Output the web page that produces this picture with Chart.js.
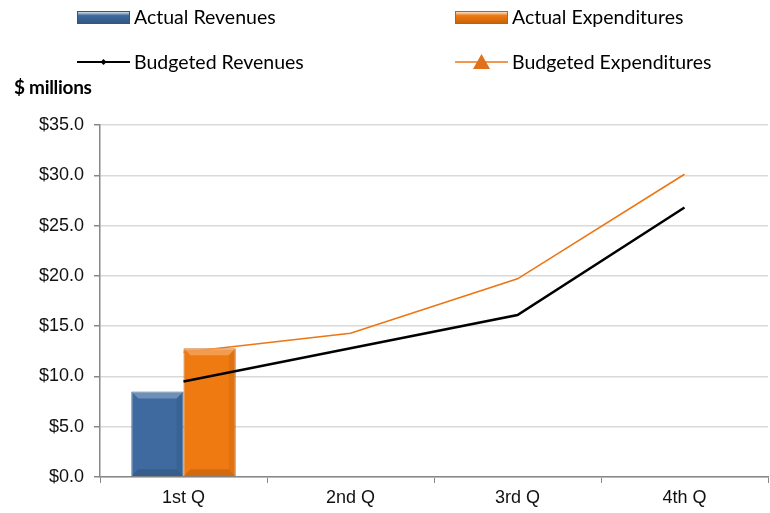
<!DOCTYPE html>
<html>
<head>
<meta charset="utf-8">
<script src="https://cdn.jsdelivr.net/npm/chart.js@4"></script>
<style>
    body { margin: 0; background: #fff; }
    #wrap { position: relative; width: 770px; height: 513px; }
    .leg { position: absolute; font-family: Lato, 'Open Sans', sans-serif; font-size: 19.5px; color: #000; white-space: nowrap; line-height: 22px; }
    .ico { position: absolute; width: 53px; }
    .unit { position: absolute; left: 14px; top: 75px; font-family: Lato, sans-serif; font-weight: bold; font-size: 19px; letter-spacing: -0.3px; }
</style>
</head>
<body>
<div id="wrap">
    <canvas id="revChart" width="770" height="513"></canvas>
    <div id="legend"></div>
    <div class="unit">$ millions</div>
</div>
<script>
const categories = ['1st Q', '2nd Q', '3rd Q', '4th Q'];
const actualRevenues = [8.5, null, null, null];
const actualExpenditures = [12.8, null, null, null];
const budgetedRevenues = [9.5, 12.8, 16.1, 26.8];
const budgetedExpenditures = [12.4, 14.3, 19.7, 30.1];
const yTicks = [0, 5, 10, 15, 20, 25, 30, 35];

const blue = '#3e6a9f';
const orange = '#f07a12';
const axisFont = { family: "'Liberation Sans', Arial, sans-serif", size: 18 };

// soft bevel on the bars, drawn over each bar element the library laid out
const bevelPlugin = {
    id: 'bevel',
    afterDatasetsDraw(chart) {
        const c = chart.ctx;
        [0, 1].forEach(i => {
            const values = chart.data.datasets[i].data;
            chart.getDatasetMeta(i).data.forEach((bar, idx) => {
                if (values[idx] == null) return;
                const l = bar.x - bar.width / 2, r = bar.x + bar.width / 2;
                const t = bar.y, b = bar.base, e = 7;
                c.save();
                c.fillStyle = 'rgba(255,255,255,0.25)';
                c.beginPath();
                c.moveTo(l, t); c.lineTo(r, t); c.lineTo(r - e, t + e); c.lineTo(l + e, t + e);
                c.closePath(); c.fill();
                c.fillStyle = 'rgba(0,0,0,0.12)';
                c.beginPath();
                c.moveTo(l, b); c.lineTo(r, b); c.lineTo(r - e, b - e); c.lineTo(l + e, b - e);
                c.closePath(); c.fill();
                c.fillStyle = 'rgba(0,0,0,0.06)';
                c.beginPath();
                c.moveTo(r, t); c.lineTo(r, b); c.lineTo(r - e, b - e); c.lineTo(r - e, t + e);
                c.closePath(); c.fill();
                c.restore();
            });
        });
    }
};

const ctx = document.getElementById('revChart').getContext('2d');
const chart = new Chart(ctx, {
    type: 'bar',
    data: {
        labels: categories,
        datasets: [
            {
                label: 'Actual Revenues',
                data: actualRevenues,
                backgroundColor: blue,
                borderColor: '#2f5582',
                borderWidth: 1,
                order: 2
            },
            {
                label: 'Actual Expenditures',
                data: actualExpenditures,
                backgroundColor: orange,
                borderColor: '#c45f08',
                borderWidth: 1,
                order: 2
            },
            {
                type: 'line',
                label: 'Budgeted Revenues',
                data: budgetedRevenues,
                borderColor: '#000',
                borderWidth: 2.5,
                pointRadius: 0,
                tension: 0,
                order: 0
            },
            {
                type: 'line',
                label: 'Budgeted Expenditures',
                data: budgetedExpenditures,
                borderColor: '#ec7514',
                borderWidth: 1.6,
                pointRadius: 0,
                tension: 0,
                order: 1
            }
        ]
    },
    options: {
        responsive: false,
        animation: false,
        layout: { padding: { top: 125, right: 2, left: 0, bottom: 0 } },
        plugins: {
            legend: { display: false },
            tooltip: { enabled: false }
        },
        datasets: {
            bar: { categoryPercentage: 0.625, barPercentage: 1 }
        },
        scales: {
            x: {
                grid: { display: true, drawOnChartArea: false, color: '#888', tickLength: 6, offset: true },
                border: { color: '#888', width: 1.5 },
                ticks: { color: '#111', font: axisFont, padding: 4 },
                afterFit: s => { s.height = 36; }
            },
            y: {
                min: 0,
                max: 35,
                afterBuildTicks: s => { s.ticks = yTicks.map(v => ({ value: v })); },
                grid: { color: '#d9d9d9', lineWidth: 1.5, tickLength: 6, tickColor: '#888' },
                border: { color: '#888', width: 1.5 },
                ticks: {
                    color: '#111',
                    font: axisFont,
                    padding: 10,
                    callback: v => '$' + v.toFixed(1)
                },
                afterFit: s => { s.width = 100; }
            }
        }
    },
    plugins: [bevelPlugin]
});

// legend laid out in two rows, two columns like the original
function buildLegend() {
    const legend = document.getElementById('legend');
    const items = [
        { label: chart.data.datasets[0].label, x: 77, y: 10, kind: 'bar', color: blue, edge: '#2f5582' },
        { label: chart.data.datasets[1].label, x: 455, y: 10, kind: 'bar', color: orange, edge: '#c45f08' },
        { label: chart.data.datasets[2].label, x: 77, y: 55, kind: 'line', color: '#000', marker: 'diamond' },
        { label: chart.data.datasets[3].label, x: 455, y: 55, kind: 'line', color: '#ec7514', marker: 'triangle' }
    ];
    items.forEach(it => {
        const icon = document.createElement('canvas');
        icon.className = 'ico';
        icon.width = 53;
        icon.height = 20;
        icon.style.left = it.x + 'px';
        icon.style.top = (it.y - 3) + 'px';
        icon.style.height = '20px';
        const g = icon.getContext('2d');
        if (it.kind === 'bar') {
            const grad = g.createLinearGradient(0, 4, 0, 17);
            grad.addColorStop(0, '#ffffff');
            grad.addColorStop(0.35, it.color);
            grad.addColorStop(1, it.edge);
            g.fillStyle = grad;
            g.fillRect(0, 4, 53, 13);
            g.strokeStyle = it.edge;
            g.strokeRect(0.5, 4.5, 52, 12);
        } else {
            g.strokeStyle = it.color;
            g.lineWidth = it.marker === 'diamond' ? 2 : 1.5;
            g.beginPath();
            g.moveTo(0, 10);
            g.lineTo(53, 10);
            g.stroke();
            g.fillStyle = it.marker === 'diamond' ? '#000' : '#e0711a';
            g.beginPath();
            if (it.marker === 'diamond') {
                g.moveTo(26.5, 7); g.lineTo(29.5, 10); g.lineTo(26.5, 13); g.lineTo(23.5, 10);
            } else {
                g.moveTo(26.5, 2); g.lineTo(35, 17); g.lineTo(18, 17);
            }
            g.closePath();
            g.fill();
        }
        legend.appendChild(icon);
        const txt = document.createElement('div');
        txt.className = 'leg';
        txt.style.left = (it.x + 57) + 'px';
        txt.style.top = (it.y - 4) + 'px';
        txt.textContent = it.label;
        legend.appendChild(txt);
    });
}
buildLegend();
</script>
</body>
</html>
